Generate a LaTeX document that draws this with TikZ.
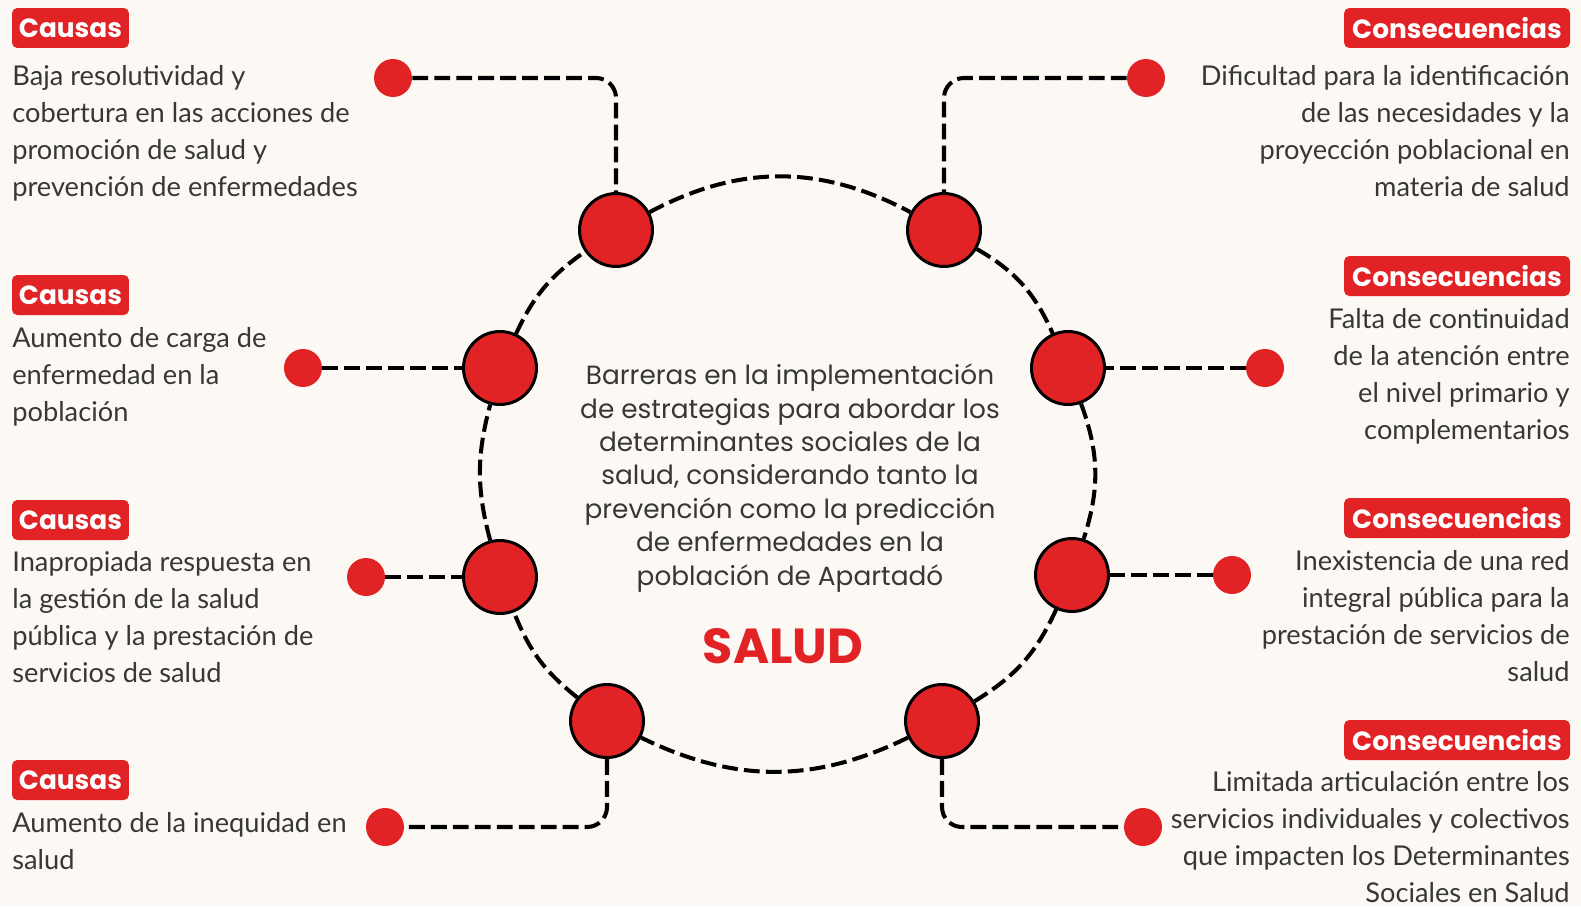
\documentclass[tikz,border=0pt]{standalone}
\usepackage{fontspec}
\setmainfont{Lato}
\newfontfamily\popfont{Poppins}
\usetikzlibrary{positioning}
\definecolor{salred}{RGB}{226,35,38}
\definecolor{txtgray}{RGB}{55,55,55}
\definecolor{bgcream}{RGB}{252,249,245}

\begin{document}
\begin{tikzpicture}
  [x=0.02cm,y=-0.02cm,
   hub/.style={circle,fill=salred,draw=black,line width=1.7pt,minimum size=1.46cm,inner sep=0pt},
   dot/.style={circle,fill=salred,minimum size=0.76cm,inner sep=0pt},
   ring/.style={line width=2.3pt,dash pattern=on 9pt off 3.5pt},
   link/.style={ring,rounded corners=0.4cm},
   tag/.style={fill=salred,text=white,rounded corners=3pt,inner sep=0pt,
     minimum height=0.8cm,font=\popfont\bfseries\fontsize{15}{18}\selectfont},
   cause/.style={tag,minimum width=2.34cm},
   conseq/.style={tag,minimum width=4.52cm},
   lefttext/.style={anchor=base west,align=left,text=txtgray,inner sep=0pt,
     font=\fontsize{15.5}{21}\selectfont},
   righttext/.style={lefttext,anchor=base east,align=right}]
  \useasboundingbox (0,0) rectangle (1581,906);
  \fill[bgcream] (0,0) rectangle (1581,906);
  % ring of hubs
  \node[hub] (hTL) at (616,230) {};
  \node[hub] (hTR) at (944,230) {};
  \node[hub] (hML) at (500,368) {};
  \node[hub] (hMR) at (1068,368) {};
  \node[hub] (hLL) at (500,577) {};
  \node[hub] (hLR) at (1072,575) {};
  \node[hub] (hBL) at (607,721) {};
  \node[hub] (hBR) at (942,721) {};
  \foreach \from/\to/\b in {hTL/hTR/28,hTR/hMR/18,hMR/hLR/19,hLR/hBR/17,
      hBR/hBL/26,hBL/hLL/15,hLL/hML/15,hML/hTL/15}
    \draw[ring] (\from) to[bend left=\b] (\to);
  % end dots
  \node[dot] (dTL) at (393,78) {};
  \node[dot] (dTR) at (1146,78) {};
  \node[dot] (dML) at (303,368) {};
  \node[dot] (dMR) at (1265,368) {};
  \node[dot] (dLL) at (366,577) {};
  \node[dot] (dLR) at (1232,575) {};
  \node[dot] (dBL) at (385,827) {};
  \node[dot] (dBR) at (1143,827) {};
  \draw[link] (dTL) -| (hTL);
  \draw[link] (dTR) -| (hTR);
  \draw[link] (dML) -- (hML);
  \draw[link] (dMR) -- (hMR);
  \draw[link] (dLL) -- (hLL);
  \draw[link] (dLR) -- (hLR);
  \draw[link] (hBL) |- (dBL);
  \draw[link] (hBR) |- (dBR);
  % causas (text nodes sit on their last baseline)
  \node[cause] (c1) at (70.5,28) {Causas};
  \node[cause] (c2) at (70.5,295) {Causas};
  \node[cause] (c3) at (70.5,520) {Causas};
  \node[cause] (c4) at (70.5,780) {Causas};
  \node[lefttext] (t1) at (12,196) {Baja resolutividad y\\cobertura en las acciones de\\promoción de salud y\\prevención de enfermedades};
  \node[lefttext] (t2) at (12,421) {Aumento de carga de\\enfermedad en la\\población};
  \node[lefttext] (t3) at (12,682) {Inapropiada respuesta en\\la gestión de la salud\\pública y la prestación de\\servicios de salud};
  \node[lefttext] (t4) at (12,869) {Aumento de la inequidad en\\salud};
  % consecuencias
  \node[conseq] (k1) at (1457,28) {Consecuencias};
  \node[conseq] (k2) at (1457,276) {Consecuencias};
  \node[conseq] (k3) at (1457,518) {Consecuencias};
  \node[conseq] (k4) at (1457,740) {Consecuencias};
  \node[righttext] (r1) at (1570,196) {Dificultad para la identificación\\de las necesidades y la\\proyección poblacional en\\materia de salud};
  \node[righttext] (r2) at (1570,439) {Falta de continuidad\\de la atención entre\\el nivel primario y\\complementarios};
  \node[righttext] (r3) at (1570,681) {Inexistencia de una red\\integral pública para la\\prestación de servicios de\\salud};
  \node[righttext] (r4) at (1570,902) {Limitada articulación entre los\\servicios individuales y colectivos\\que impacten los Determinantes\\Sociales en Salud};
  % centre
  \node[anchor=base,align=center,text=txtgray,inner sep=0pt,
    font=\popfont\fontsize{15}{19}\selectfont] (mid) at (790,585)
    {Barreras en la implementación\\de estrategias para abordar los\\determinantes sociales de la\\salud, considerando tanto la\\prevención como la predicción\\de enfermedades en la\\población de Apartadó};
  \node[text=salred,font=\popfont\bfseries\fontsize{28}{30}\selectfont] (salud) at (783,646) {SALUD};
\end{tikzpicture}
\end{document}
